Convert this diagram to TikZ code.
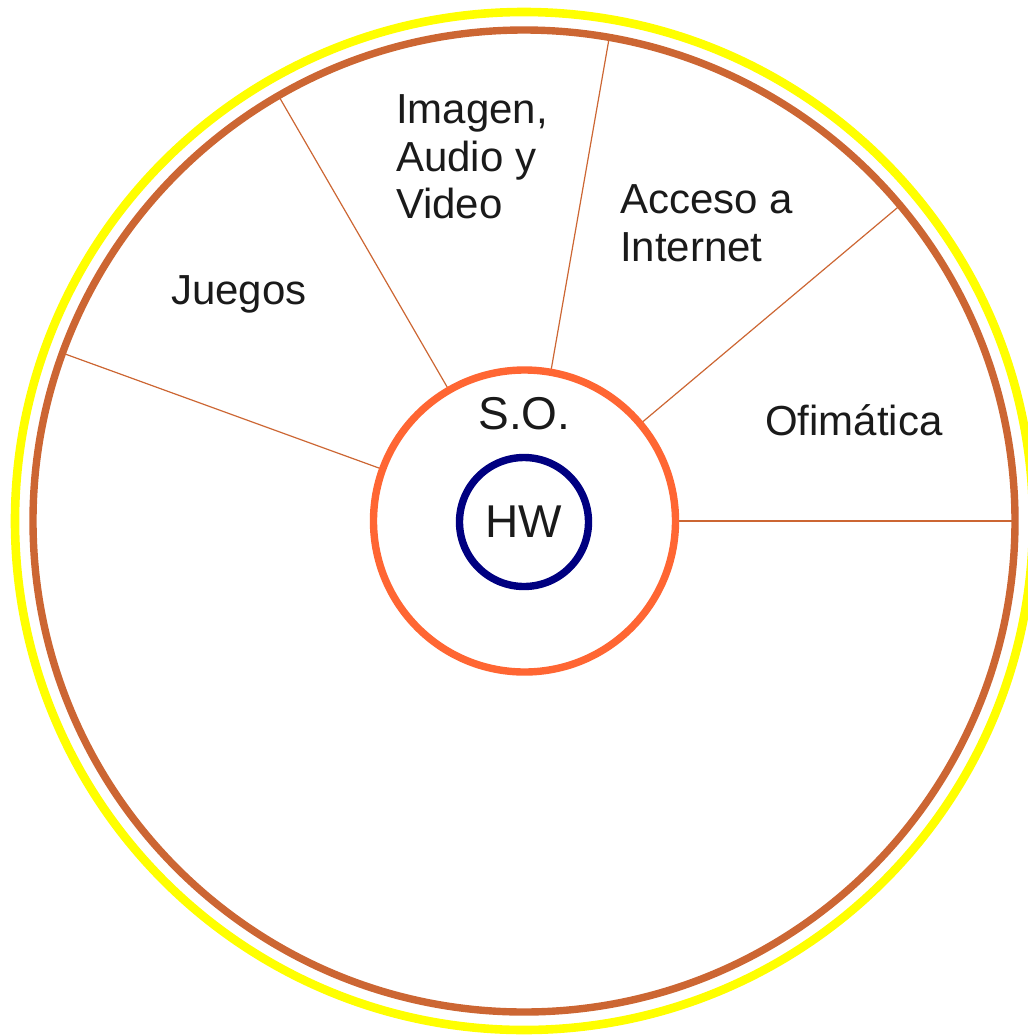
\documentclass[tikz,border=0pt]{standalone}
\usepackage{fontspec}
\setmainfont{Liberation Sans}
\usetikzlibrary{backgrounds}
\definecolor{ringyellow}{HTML}{FFFF00}
\definecolor{ringbrown}{HTML}{CC6633}
\definecolor{ringorange}{HTML}{FF6633}
\definecolor{ringnavy}{HTML}{000080}
\definecolor{txtgray}{HTML}{1A1A1A}
\tikzset{
  ring/.style={circle, inner sep=0pt, outer sep=0pt, draw=#1, line width=3.7pt},
  divider/.style={draw=ringbrown, line width=0.6pt},
  lbl/.style={inner sep=0pt, outer sep=0pt, text=txtgray, align=left, anchor=north west,
              font=\fontsize{21}{23.6}\selectfont},
  biglbl/.style={inner sep=0pt, outer sep=0pt, text=txtgray, font=\fontsize{23}{26}\selectfont}
}
\begin{document}
\begin{tikzpicture}[x=0.5pt,y=-0.5pt]
  \useasboundingbox (0,0) rectangle (1028,1035);
  \node[ring=ringyellow, line width=4.3pt, minimum size=509pt] (yellow) at (524,521) {};
  \node[ring=ringbrown, minimum size=491pt] (outer) at (524,521) {};
  \node[ring=ringorange, minimum size=151pt] (so) at (524.5,521) {};
  \node[ring=ringnavy, minimum size=64.5pt, biglbl] (hw) at (524,522) {HW};
  \node[biglbl, anchor=base] (solbl) at (524.5,429) {S.O.};
  \begin{scope}[on background layer]
    \foreach \a in {0,40,80,120,160} {
      \draw[divider] (so.\a) -- (outer.\a);
    }
  \end{scope}
  \node[lbl] (juegos) at (171,276) {Juegos};
  \node[lbl] (multimedia) at (396,95) {Imagen,\\Audio y\\Video};
  \node[lbl] (internet) at (620,185) {Acceso a\\Internet};
  \node[lbl] (ofimatica) at (765,405) {Ofimática};
\end{tikzpicture}
\end{document}
